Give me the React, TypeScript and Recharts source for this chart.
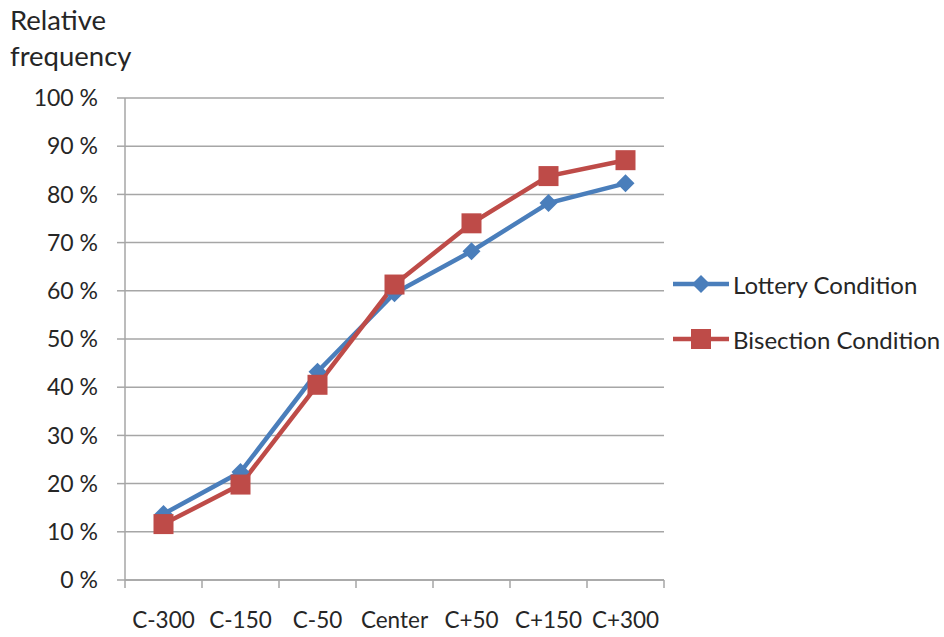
import { LineChart, Line, XAxis, YAxis, CartesianGrid } from "recharts";

const categories = ["C-300", "C-150", "C-50", "Center", "C+50", "C+150", "C+300"];
const lotteryValues = [13.7, 22.4, 43.2, 59.5, 68.2, 78.2, 82.3];
const bisectionValues = [11.6, 19.8, 40.5, 61.3, 74.0, 83.8, 87.1];
const yTicks = [0, 10, 20, 30, 40, 50, 60, 70, 80, 90, 100];
const seriesNames = ["Lottery Condition", "Bisection Condition"];

const BLUE = "#4a7ebb";
const RED = "#be4b48";
const GRID = "#a6a6a6";
const TEXT = "#262626";
const FONT = "Lato, 'Open Sans', sans-serif";

const W = 944;
const H = 637;
const PLOT_LEFT = 125;
const PLOT_RIGHT = 664;
const HALF_STEP = (PLOT_RIGHT - PLOT_LEFT) / categories.length / 2;
const X_TICK_SIZE = 8;
const X_TICK_MARGIN = 24;

const data = categories.map((c, i) => ({
  category: c,
  lottery: lotteryValues[i],
  bisection: bisectionValues[i],
}));

// eslint-disable-next-line @typescript-eslint/no-explicit-any
const Diamond = ({ cx, cy }: any) => {
  const r = 9;
  return (
    <polygon
      points={`${cx},${cy - r} ${cx + r},${cy} ${cx},${cy + r} ${cx - r},${cy}`}
      fill={BLUE}
    />
  );
};

// eslint-disable-next-line @typescript-eslint/no-explicit-any
const Square = ({ cx, cy }: any) => {
  const s = 10;
  return <rect x={cx - s} y={cy - s} width={s * 2} height={s * 2} fill={RED} />;
};

// eslint-disable-next-line @typescript-eslint/no-explicit-any
const XTick = ({ x, y, payload, index }: any) => {
  const top = y - X_TICK_MARGIN - X_TICK_SIZE;
  const bottom = y - X_TICK_MARGIN;
  return (
    <g>
      <line x1={x - HALF_STEP} x2={x - HALF_STEP} y1={top} y2={bottom} stroke={GRID} strokeWidth={1.5} />
      {index === categories.length - 1 && (
        <line x1={x + HALF_STEP} x2={x + HALF_STEP} y1={top} y2={bottom} stroke={GRID} strokeWidth={1.5} />
      )}
      <text x={x} y={y} dy="0.71em" textAnchor="middle" fill={TEXT} fontSize={22.5} fontFamily={FONT}>
        {payload.value}
      </text>
    </g>
  );
};

function LegendRow({ label, color, square }: { label: string; color: string; square: boolean }) {
  return (
    <div style={{ display: "flex", alignItems: "center", height: 24, marginBottom: 31 }}>
      <svg width={60} height={24}>
        <line x1={0} x2={56} y1={12} y2={12} stroke={color} strokeWidth={4.5} />
        {square ? <Square cx={28} cy={12} /> : <Diamond cx={28} cy={12} />}
      </svg>
      <span style={{ fontSize: 24, color: TEXT, fontFamily: FONT, whiteSpace: "nowrap" }}>{label}</span>
    </div>
  );
}

export default function App() {
  return (
    <div style={{ position: "absolute", left: 0, top: 0, width: W, height: H, background: "#fff" }}>
      <div
        style={{
          position: "absolute",
          left: 10,
          top: 2,
          fontSize: 27.5,
          lineHeight: "36px",
          color: TEXT,
          fontFamily: FONT,
        }}
      >
        Relative
        <br />
        frequency
      </div>
      <LineChart width={W} height={H} data={data} margin={{ top: 98, right: W - PLOT_RIGHT, bottom: 0, left: 65 }}>
        <CartesianGrid vertical={false} stroke={GRID} strokeWidth={1.5} />
        <XAxis
          dataKey="category"
          height={H - 580}
          padding={{ left: HALF_STEP, right: HALF_STEP }}
          axisLine={{ stroke: GRID, strokeWidth: 1.5 }}
          tickLine={false}
          tickSize={X_TICK_SIZE}
          tickMargin={X_TICK_MARGIN}
          tick={<XTick />}
          interval={0}
        />
        <YAxis
          width={60}
          domain={[0, 100]}
          ticks={yTicks}
          tickFormatter={(v) => `${v} %`}
          axisLine={{ stroke: GRID, strokeWidth: 1.5 }}
          tickLine={{ stroke: GRID, strokeWidth: 1.5 }}
          tickSize={8}
          tickMargin={19}
          tick={{ fontSize: 23, fill: TEXT, fontFamily: FONT }}
        />
        <Line
          dataKey="lottery"
          name={seriesNames[0]}
          stroke={BLUE}
          strokeWidth={4.5}
          dot={<Diamond />}
          activeDot={false}
          isAnimationActive={false}
        />
        <Line
          dataKey="bisection"
          name={seriesNames[1]}
          stroke={RED}
          strokeWidth={4.5}
          dot={<Square />}
          activeDot={false}
          isAnimationActive={false}
        />
      </LineChart>
      <div style={{ position: "absolute", left: 673, top: 272 }}>
        <LegendRow label={seriesNames[0]} color={BLUE} square={false} />
        <LegendRow label={seriesNames[1]} color={RED} square={true} />
      </div>
    </div>
  );
}
